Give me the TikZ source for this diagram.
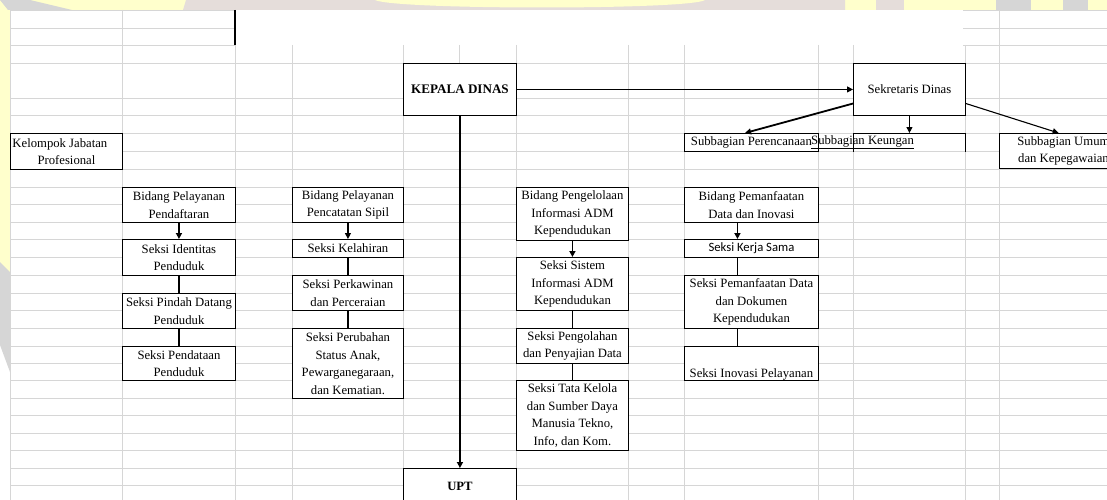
\documentclass[tikz,border=0pt]{standalone}
\usepackage{fontspec}
\setmainfont{Liberation Serif}
\newfontfamily\calibri{Carlito}
\usetikzlibrary{arrows.meta,calc}
\definecolor{gridc}{RGB}{214,214,214}
\definecolor{wmY}{RGB}{255,255,204}
\definecolor{wmG}{RGB}{214,214,214}
\definecolor{wmP}{RGB}{229,221,218}
\tikzset{
  txt/.style={inner sep=0pt,font=\fontsize{12.7}{17.5}\selectfont},
  box/.style={draw=black,line width=0.9pt,fill=white,inner sep=0pt,align=center,
    anchor=north west,font=\fontsize{12.7}{17.5}\selectfont},
  bx/.style 2 args={box,minimum width=#1,minimum height=#2},
  tipT/.style={-{Triangle[length=6pt,width=6pt]}},
  arrT/.style={tipT,line width=1.1pt},
  arrK/.style={tipT,line width=1.8pt},
  lnT/.style={line width=1.1pt},
  lnK/.style={line width=1.8pt},
  gridl/.style={gridc,line width=0.9pt}
}
\begin{document}
\begin{tikzpicture}[x=1pt,y=-1pt]
\useasboundingbox (0,0) rectangle (1107,500);
\clip (0,0) rectangle (1107,500);
% background and watermark strips
\fill[white] (0,0) rectangle (1107,500);
\fill[wmY] (0,0) rectangle (1107,10);
\fill[wmY] (0,0) rectangle (10,275);
\fill[wmG] (0,262) -- (10,272) -- (10,372) -- (0,345) -- cycle;
\fill[wmG] (0,0) -- (30,0) -- (72,10) -- (8,10) -- cycle;
\fill[wmP] (186,0) -- (380,0) -- (380,10) -- (183,10) -- cycle;
\fill[wmP] (690,0) -- (845,0) -- (845,10) -- (700,10) -- cycle;
\fill[wmP] (380,0) -- (700,0) -- (700,10) -- (380,10) -- cycle;
\fill[wmY] (375,0) -- (705,0) .. controls (690,10) and (395,10) .. (375,0) -- cycle;
\fill[wmP] (876,0) rectangle (904,10);
\fill[wmG] (996,0) rectangle (1031,10);
\fill[wmG] (1063,0) rectangle (1088,10);
% spreadsheet grid
\begin{scope}[gridl]
\foreach \y in {10,28,45} \draw (10,\y) -- (235,\y);
\foreach \y in {10,28,45} \draw (963,\y) -- (1107,\y);
\foreach \x in {10,122} \draw (\x,10) -- (\x,500);
\draw (999,10) -- (999,500);
\foreach \y in {63,98,115,133,151,169,187,204,222,239,257,275,293,310,328,346,363,380,398,415,433,450,468,485}
  \draw (10,\y) -- (1107,\y);
\foreach \x in {235,292,403,459,516,628,684,818,853,965}
  \draw (\x,45) -- (\x,500);
\end{scope}
\draw[line width=1.1pt] (235,10) -- (235,45);
% top level
\node[bx={112pt}{36pt}] (kjp) at (10,133) {\makebox[108pt][l]{Kelompok Jabatan}\\Profesional};
\node[bx={113pt}{52pt},font=\fontsize{13.1}{17.5}\selectfont\bfseries] (kd) at (403,63) {KEPALA DINAS};
\node[bx={112pt}{52pt}] (sd) at (853,63) {Sekretaris Dinas};
\node[bx={134pt}{18pt}] (sp) at (684,133) {Subbagian Perencanaan};
\node[bx={112pt}{18pt},draw=none,fill=none] (sk) at (853,133) {};
\draw[line width=0.9pt] (sk.south west) -- (sk.north west) -- (sk.north east) -- (sk.south east);
\node[txt,anchor=west] (skt) at (811,142) {\underline{Subbagian Keungan}};
\node[bx={128pt}{35pt}] (su) at (999,133) {Subbagian Umum\\dan Kepegawaian};
\node[bx={113pt}{36pt},font=\fontsize{12.7}{17.5}\selectfont\bfseries] (upt) at (403,468) {UPT};
% column A
\node[bx={113pt}{35pt}] (a1) at (122,187) {Bidang Pelayanan\\Pendaftaran};
\node[bx={113pt}{36pt}] (a2) at (122,239) {Seksi Identitas\\Penduduk};
\node[bx={113pt}{35pt}] (a3) at (122,293) {Seksi Pindah Datang\\Penduduk};
\node[bx={113pt}{34pt}] (a4) at (122,346) {Seksi Pendataan\\Penduduk};
% column B
\node[bx={111pt}{35pt}] (b1) at (292,187) {Bidang Pelayanan\\Pencatatan Sipil};
\node[bx={111pt}{18pt}] (b2) at (292,239) {Seksi Kelahiran};
\node[bx={111pt}{35pt}] (b3) at (292,275) {Seksi Perkawinan\\dan Perceraian};
\node[bx={111pt}{70pt}] (b4) at (292,328) {Seksi Perubahan\\Status Anak,\\Pewarganegaraan,\\dan Kematian.};
% column C
\node[bx={112pt}{53pt}] (c1) at (516,187) {Bidang Pengelolaan\\Informasi ADM\\Kependudukan};
\node[bx={112pt}{53pt}] (c2) at (516,257) {Seksi Sistem\\Informasi ADM\\Kependudukan};
\node[bx={112pt}{35pt}] (c3) at (516,328) {Seksi Pengolahan\\dan Penyajian Data};
\node[bx={112pt}{70pt}] (c4) at (516,380) {Seksi Tata Kelola\\dan Sumber Daya\\Manusia Tekno,\\Info, dan Kom.};
% column D
\node[bx={134pt}{35pt}] (d1) at (684,187) {Bidang Pemanfaatan\\Data dan Inovasi};
\node[bx={134pt}{18pt}] (d2) at (684,239) {\calibri Seksi Kerja Sama};
\node[bx={134pt}{53pt}] (d3) at (684,275) {Seksi Pemanfaatan Data\\dan Dokumen\\Kependudukan};
\node[bx={134pt}{34pt}] (d4) at (684,346) {};
\node[txt,anchor=base] (d4t) at ($(d4.south)+(0,-3.5)$) {Seksi Inovasi Pelayanan};
% connectors
\draw[arrT] (kd) -- (sd);
\draw[arrK] (kd) -- (upt);
\draw[arrK] (sd.194) -- (sp.124);
\draw[arrT] (sd) -- (sk);
\draw[arrT] (sd.-14) -- (su.105);
\draw[arrK] (a1) -- (a2);
\draw[lnK] (a2) -- (a3);
\draw[lnK] (a3) -- (a4);
\draw[arrT] (b1) -- (b2);
\draw[lnT] (b2) -- (b3);
\draw[lnK] (b3) -- (b4);
\draw[arrK] (c1) -- (c2);
\draw[lnK] (c2) -- (c3);
\draw[lnT] (c3) -- (c4);
\draw[arrK] ($(d1.south)+(-14,0)$) -- ($(d2.north)+(-14,0)$);
\draw[lnK] ($(d2.south)+(-14,0)$) -- ($(d3.north)+(-14,0)$);
\draw[lnK] ($(d3.south)+(-14,0)$) -- ($(d4.north)+(-14,0)$);
\end{tikzpicture}
\end{document}
